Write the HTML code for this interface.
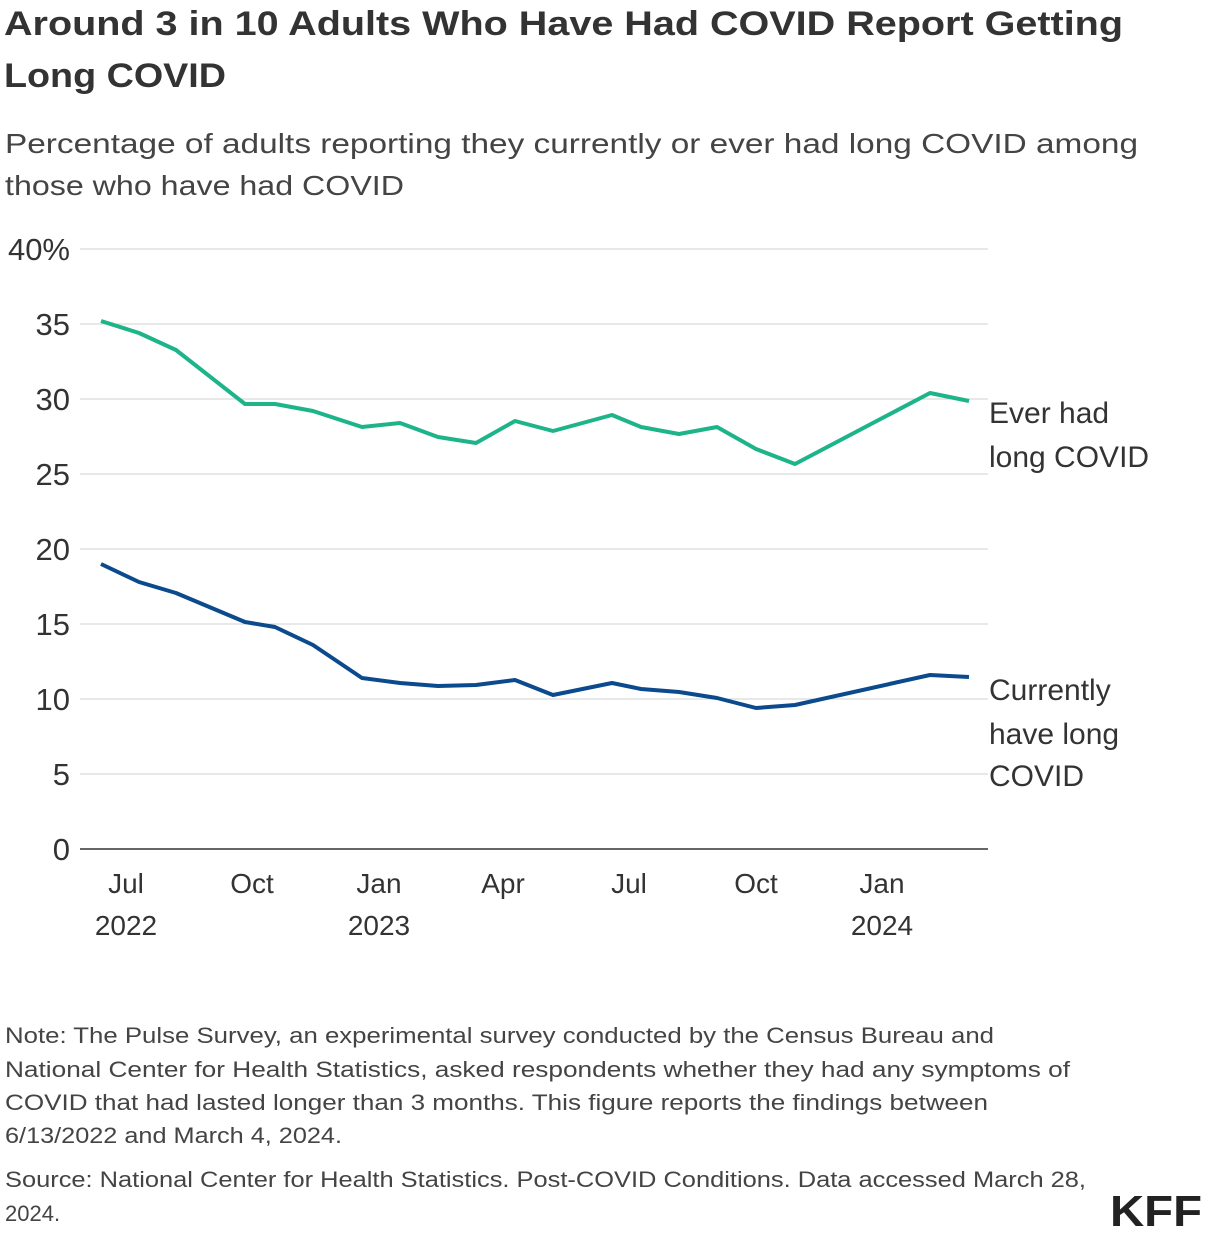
<!DOCTYPE html>
<html><head><meta charset="utf-8"><style>
html,body{margin:0;padding:0;background:#fff;}
svg{display:block;font-family:"Liberation Sans",sans-serif;}
</style></head><body>
<svg width="1214" height="1240" viewBox="0 0 1214 1240" xmlns="http://www.w3.org/2000/svg">
<g font-weight="bold" font-size="34" fill="#333">
<text x="4" y="35" textLength="1119" lengthAdjust="spacingAndGlyphs">Around 3 in 10 Adults Who Have Had COVID Report Getting</text>
<text x="4" y="87" textLength="222" lengthAdjust="spacingAndGlyphs">Long COVID</text>
</g>
<g font-size="28" fill="#444">
<text x="5" y="153" textLength="1133" lengthAdjust="spacingAndGlyphs">Percentage of adults reporting they currently or ever had long COVID among</text>
<text x="5" y="195" textLength="399" lengthAdjust="spacingAndGlyphs">those who have had COVID</text>
</g>
<g stroke="#d0d0d0" stroke-width="1">
<line x1="80" x2="988" y1="249" y2="249"/><line x1="80" x2="988" y1="324" y2="324"/>
<line x1="80" x2="988" y1="399" y2="399"/><line x1="80" x2="988" y1="474" y2="474"/>
<line x1="80" x2="988" y1="549" y2="549"/><line x1="80" x2="988" y1="624" y2="624"/>
<line x1="80" x2="988" y1="699" y2="699"/><line x1="80" x2="988" y1="774" y2="774"/>
</g>
<line x1="80" x2="988" y1="849" y2="849" stroke="#333" stroke-width="1.5"/>
<g font-size="31" fill="#333" text-anchor="end">
<text x="70" y="260">40%</text><text x="70" y="335">35</text><text x="70" y="410">30</text>
<text x="70" y="485">25</text><text x="70" y="560">20</text><text x="70" y="635">15</text>
<text x="70" y="710">10</text><text x="70" y="785">5</text><text x="70" y="860">0</text>
</g>
<g font-size="28" fill="#333" text-anchor="middle">
<text x="126" y="893">Jul</text><text x="126" y="935">2022</text>
<text x="252" y="893">Oct</text>
<text x="379" y="893">Jan</text><text x="379" y="935">2023</text>
<text x="503" y="893">Apr</text>
<text x="629" y="893">Jul</text>
<text x="756" y="893">Oct</text>
<text x="882" y="893">Jan</text><text x="882" y="935">2024</text>
</g>
<polyline fill="none" stroke="#1db48a" stroke-width="4" stroke-linejoin="round" points="101,321 139,333 176,350 245,404 275,404 313,411 362,427 400,423 438,437 476,443 515,421 553,431 612,415 641,427 679,434 717,427 756,449 795,464 930,393 969,401"/>
<polyline fill="none" stroke="#0b4a8c" stroke-width="4" stroke-linejoin="round" points="101,564 139,582 176,593 245,622 275,627 313,645 362,678 400,683 438,686 476,685 515,680 553,695 612,683 641,689 679,692 717,698 756,708 795,705 930,675 969,677"/>
<g font-size="30" fill="#333">
<text x="989" y="423">Ever had</text><text x="989" y="467">long COVID</text>
<text x="989" y="700">Currently</text><text x="989" y="744">have long</text><text x="989" y="786">COVID</text>
</g>
<g font-size="22" fill="#444">
<text x="5" y="1043" textLength="989" lengthAdjust="spacingAndGlyphs">Note: The Pulse Survey, an experimental survey conducted by the Census Bureau and</text>
<text x="5" y="1077" textLength="1065" lengthAdjust="spacingAndGlyphs">National Center for Health Statistics, asked respondents whether they had any symptoms of</text>
<text x="5" y="1110" textLength="983" lengthAdjust="spacingAndGlyphs">COVID that had lasted longer than 3 months. This figure reports the findings between</text>
<text x="5" y="1143" textLength="337" lengthAdjust="spacingAndGlyphs">6/13/2022 and March 4, 2024.</text>
<text x="5" y="1187" textLength="1081" lengthAdjust="spacingAndGlyphs">Source: National Center for Health Statistics. Post-COVID Conditions. Data accessed March 28,</text>
<text x="5" y="1221">2024.</text>
</g>
<text x="1110" y="1226" font-size="44" font-weight="bold" fill="#222" textLength="92" lengthAdjust="spacingAndGlyphs">KFF</text>
</svg>
</body></html>
